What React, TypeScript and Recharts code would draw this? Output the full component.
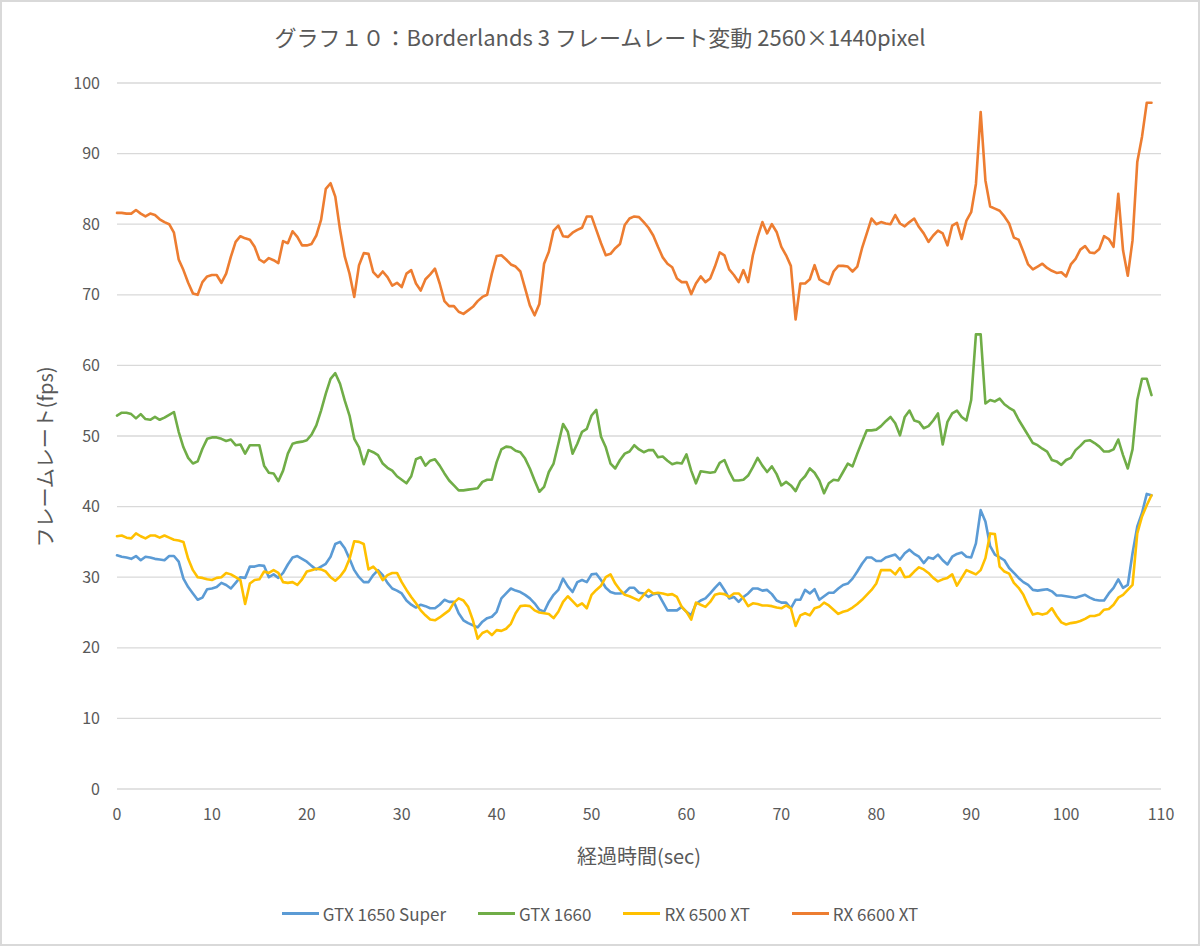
import React from "react";
import { LineChart, Line, XAxis, YAxis, CartesianGrid } from "recharts";

// Time axis: samples every 0.5 s from 0 to 109 s
const SAMPLE_COUNT = 219;
const timeSec: number[] = Array.from({ length: SAMPLE_COUNT }, (_, i) => i / 2);

const xTicks = [0, 10, 20, 30, 40, 50, 60, 70, 80, 90, 100, 110];
const yTicks = [0, 10, 20, 30, 40, 50, 60, 70, 80, 90, 100];

const seriesNames = ["GTX 1650 Super", "GTX 1660", "RX 6500 XT", "RX 6600 XT"];

const gtx1650Super = [
  33.1, 32.9, 32.8, 32.6, 33.0, 32.4, 32.9, 32.8, 32.6, 32.5,
  32.4, 33.0, 33.0, 32.2, 29.8, 28.6, 27.7, 26.8, 27.1, 28.3,
  28.4, 28.6, 29.2, 28.9, 28.4, 29.2, 30.0, 29.9, 31.5, 31.5,
  31.7, 31.6, 30.0, 30.4, 29.9, 30.6, 31.8, 32.8, 33.0, 32.6,
  32.2, 31.6, 31.1, 31.5, 31.9, 32.9, 34.7, 35.0, 34.1, 32.6,
  31.0, 30.0, 29.3, 29.3, 30.3, 31.0, 30.3, 29.2, 28.4, 28.1,
  27.7, 26.7, 26.1, 25.7, 26.1, 25.9, 25.6, 25.6, 26.1, 26.8,
  26.5, 26.5, 24.9, 23.9, 23.5, 23.2, 22.9, 23.7, 24.2, 24.4,
  25.1, 27.0, 27.7, 28.4, 28.1, 27.9, 27.5, 27.0, 26.3, 25.4,
  25.1, 26.5, 27.5, 28.2, 29.8, 28.7, 27.9, 29.3, 29.6, 29.3,
  30.4, 30.5, 29.6, 28.5, 27.9, 27.7, 27.7, 27.8, 28.5, 28.5,
  27.8, 27.7, 27.2, 27.6, 27.7, 26.5, 25.3, 25.3, 25.3, 25.8,
  25.1, 24.6, 26.2, 26.7, 27.0, 27.7, 28.5, 29.2, 28.2, 27.0,
  27.2, 26.5, 27.2, 27.7, 28.4, 28.4, 28.1, 28.2, 27.6, 26.7,
  26.4, 26.4, 25.6, 26.8, 26.8, 28.2, 27.7, 28.3, 26.8, 27.3,
  27.8, 27.8, 28.4, 28.9, 29.1, 29.8, 30.8, 31.9, 32.8, 32.8,
  32.3, 32.3, 32.8, 33.0, 33.2, 32.5, 33.4, 33.9, 33.3, 32.9,
  32.0, 32.8, 32.6, 33.2, 32.4, 31.8, 32.9, 33.3, 33.5, 32.9,
  32.8, 34.8, 39.5, 37.9, 34.4, 33.2, 32.8, 32.4, 31.3, 30.6,
  29.9, 29.3, 28.9, 28.2, 28.1, 28.2, 28.3, 28.0, 27.4, 27.4,
  27.3, 27.2, 27.1, 27.3, 27.5, 27.1, 26.8, 26.7, 26.7, 27.7,
  28.5, 29.7, 28.5, 28.9, 33.4, 37.2, 39.1, 41.8, 41.6,
];

const gtx1660 = [
  52.9, 53.3, 53.3, 53.1, 52.5, 53.1, 52.4, 52.3, 52.7, 52.3,
  52.6, 53.0, 53.4, 50.6, 48.4, 46.9, 46.1, 46.4, 48.2, 49.6,
  49.8, 49.8, 49.6, 49.3, 49.5, 48.7, 48.8, 47.5, 48.7, 48.7,
  48.7, 45.8, 44.8, 44.7, 43.6, 45.1, 47.5, 48.9, 49.1, 49.2,
  49.4, 50.2, 51.5, 53.6, 56.0, 58.1, 58.9, 57.4, 55.0, 52.9,
  49.6, 48.4, 46.0, 48.0, 47.7, 47.3, 46.1, 45.5, 45.1, 44.3,
  43.8, 43.3, 44.3, 46.7, 47.0, 45.8, 46.5, 46.7, 45.8, 44.7,
  43.7, 43.0, 42.3, 42.3, 42.4, 42.5, 42.6, 43.5, 43.8, 43.8,
  46.3, 48.1, 48.5, 48.4, 47.9, 47.7, 46.8, 45.4, 43.7, 42.1,
  42.8, 44.9, 46.1, 48.9, 51.7, 50.6, 47.5, 48.9, 50.6, 51.0,
  52.9, 53.7, 49.9, 48.4, 46.1, 45.4, 46.6, 47.5, 47.8, 48.7,
  48.1, 47.7, 48.0, 48.0, 47.0, 47.1, 46.5, 46.0, 46.2, 46.1,
  47.4, 45.1, 43.3, 45.0, 44.9, 44.8, 44.9, 46.2, 46.6, 45.0,
  43.7, 43.7, 43.8, 44.4, 45.6, 46.9, 45.8, 44.9, 45.7, 44.6,
  43.0, 43.5, 43.0, 42.2, 43.6, 44.3, 45.4, 44.8, 43.7, 41.9,
  43.3, 43.8, 43.7, 44.9, 46.1, 45.7, 47.5, 49.2, 50.8, 50.8,
  50.9, 51.4, 52.1, 52.7, 51.8, 50.1, 52.7, 53.6, 52.2, 52.0,
  51.1, 51.4, 52.2, 53.2, 48.8, 52.0, 53.2, 53.6, 52.7, 52.2,
  55.1, 64.4, 64.4, 54.6, 55.1, 54.9, 55.3, 54.5, 54.0, 53.6,
  52.3, 51.2, 50.1, 49.0, 48.7, 48.2, 47.8, 46.6, 46.4, 45.9,
  46.6, 46.9, 48.0, 48.6, 49.3, 49.4, 49.0, 48.5, 47.8, 47.8,
  48.1, 49.5, 47.3, 45.4, 48.1, 55.1, 58.1, 58.1, 55.8,
];

const rx6500xt = [
  35.8, 35.9, 35.6, 35.5, 36.2, 35.8, 35.5, 35.9, 35.9, 35.6,
  35.9, 35.6, 35.3, 35.2, 35.0, 32.6, 31.0, 30.0, 29.9, 29.7,
  29.6, 29.9, 30.0, 30.6, 30.4, 30.0, 29.6, 26.2, 29.1, 29.6,
  29.7, 30.8, 30.6, 31.0, 30.6, 29.3, 29.2, 29.3, 28.9, 29.7,
  30.8, 31.0, 31.2, 31.1, 30.8, 30.0, 29.5, 30.1, 31.0, 32.6,
  35.1, 35.0, 34.7, 31.1, 31.5, 30.8, 29.6, 30.3, 30.6, 30.6,
  29.3, 28.2, 27.2, 26.3, 25.3, 24.6, 24.0, 23.9, 24.3, 24.8,
  25.3, 26.4, 27.0, 26.7, 25.8, 23.9, 21.3, 22.1, 22.4, 21.8,
  22.5, 22.4, 22.7, 23.4, 24.9, 25.9, 26.0, 25.9, 25.3, 25.0,
  24.9, 24.8, 24.2, 25.1, 26.5, 27.3, 26.6, 25.9, 26.3, 25.6,
  27.5, 28.2, 28.8, 30.0, 30.4, 29.1, 28.2, 27.5, 27.3, 27.0,
  26.7, 27.5, 28.2, 27.7, 27.8, 27.7, 27.5, 27.6, 27.2, 25.8,
  25.1, 24.0, 26.4, 26.1, 25.8, 26.5, 27.5, 27.7, 27.6, 27.2,
  27.7, 27.7, 27.0, 25.9, 26.3, 26.2, 26.0, 26.0, 25.9, 25.7,
  25.6, 26.0, 25.6, 23.1, 24.6, 24.9, 24.6, 25.6, 25.8, 26.4,
  26.0, 25.4, 24.8, 25.1, 25.3, 25.7, 26.2, 26.8, 27.5, 28.2,
  29.1, 31.0, 31.0, 31.0, 30.4, 31.3, 30.0, 30.1, 30.8, 31.4,
  31.1, 30.6, 29.9, 29.4, 29.7, 29.9, 30.4, 28.8, 29.9, 31.0,
  30.7, 30.4, 31.0, 32.7, 36.2, 36.1, 31.5, 30.8, 30.5, 29.2,
  28.5, 27.5, 26.0, 24.7, 24.9, 24.7, 24.9, 25.6, 24.5, 23.6,
  23.3, 23.5, 23.6, 23.8, 24.1, 24.5, 24.5, 24.7, 25.4, 25.5,
  26.1, 27.1, 27.5, 28.2, 28.9, 36.2, 38.6, 40.2, 41.6,
];

const rx6600xt = [
  81.6, 81.6, 81.5, 81.5, 82.0, 81.5, 81.1, 81.5, 81.3, 80.7,
  80.3, 80.0, 78.8, 75.0, 73.5, 71.7, 70.2, 70.0, 71.8, 72.6,
  72.8, 72.8, 71.7, 73.0, 75.4, 77.5, 78.3, 78.0, 77.8, 76.8,
  75.0, 74.6, 75.2, 74.9, 74.5, 77.6, 77.3, 79.0, 78.2, 77.0,
  77.0, 77.2, 78.4, 80.6, 85.0, 85.8, 83.9, 79.2, 75.4, 73.0,
  69.7, 74.2, 75.9, 75.8, 73.2, 72.5, 73.3, 72.5, 71.3, 71.7,
  71.1, 73.0, 73.5, 71.6, 70.6, 72.2, 72.9, 73.7, 71.6, 69.1,
  68.4, 68.4, 67.6, 67.3, 67.8, 68.3, 69.1, 69.7, 70.0, 73.0,
  75.5, 75.6, 75.0, 74.3, 74.0, 73.3, 70.9, 68.5, 67.1, 68.7,
  74.4, 76.1, 79.1, 79.8, 78.3, 78.2, 78.8, 79.2, 79.5, 81.1,
  81.1, 79.2, 77.3, 75.6, 75.8, 76.6, 77.2, 79.9, 80.8, 81.1,
  81.0, 80.3, 79.5, 78.4, 76.8, 75.3, 74.4, 73.9, 72.3, 71.8,
  71.8, 70.1, 71.6, 72.6, 71.8, 72.3, 74.0, 76.0, 75.6, 73.6,
  72.8, 71.8, 73.5, 71.8, 75.6, 78.2, 80.3, 78.7, 80.0, 78.9,
  76.8, 75.6, 74.1, 66.5, 71.6, 71.6, 72.2, 74.2, 72.2, 71.8,
  71.5, 73.3, 74.1, 74.1, 74.0, 73.3, 74.0, 76.6, 78.7, 80.8,
  80.0, 80.3, 80.1, 80.0, 81.3, 80.1, 79.7, 80.3, 80.8, 79.6,
  78.7, 77.5, 78.4, 79.1, 78.7, 77.0, 79.8, 80.2, 77.9, 80.5,
  81.7, 85.7, 95.9, 86.2, 82.5, 82.2, 81.9, 81.1, 80.1, 78.1,
  77.8, 76.1, 74.3, 73.6, 74.0, 74.4, 73.8, 73.4, 73.1, 73.2,
  72.6, 74.3, 75.1, 76.4, 76.9, 76.0, 75.9, 76.5, 78.3, 77.9,
  76.8, 84.3, 76.3, 72.7, 77.7, 88.8, 92.4, 97.2, 97.2,
];

const seriesKeys = ["gtx1650s", "gtx1660", "rx6500xt", "rx6600xt"];
const seriesColors = ["#5B9BD5", "#70AD47", "#FFC000", "#ED7D31"];
const seriesValues = [gtx1650Super, gtx1660, rx6500xt, rx6600xt];

const data = timeSec.map((t, i) => {
  const row: Record<string, number> = { t };
  seriesKeys.forEach((k, s) => {
    row[k] = seriesValues[s][i];
  });
  return row;
});

const FONT = "'Noto Sans CJK JP', 'Noto Sans', sans-serif";
const TEXT = "#595959";
const legendGaps = [0, 32, 32, 42];

export default function App() {
  return (
    <div
      style={{
        position: "absolute",
        left: 0,
        top: 0,
        width: 1200,
        height: 946,
        background: "#fff",
        fontFamily: FONT,
        overflow: "hidden",
      }}
    >
      <div
        style={{
          position: "absolute",
          left: 0,
          top: 0,
          width: 1200,
          height: 946,
          boxSizing: "border-box",
          border: "2px solid #d9d9d9",
          pointerEvents: "none",
          zIndex: 2,
        }}
      />
      <div
        style={{
          position: "absolute",
          left: 0,
          top: 21,
          width: 1200,
          textAlign: "center",
          fontSize: 22,
          color: TEXT,
          lineHeight: "30px",
          whiteSpace: "nowrap",
        }}
      >
        グラフ１０：Borderlands 3 フレームレート変動 2560×1440pixel
      </div>
      <div
        style={{
          position: "absolute",
          left: 45 - 150,
          top: 457 - 15,
          width: 300,
          height: 30,
          lineHeight: "30px",
          textAlign: "center",
          fontSize: 20,
          color: TEXT,
          transform: "rotate(-90deg)",
          whiteSpace: "nowrap",
          zIndex: 1,
        }}
      >
        フレームレート(fps)
      </div>
      <LineChart
        width={1200}
        height={946}
        data={data}
        margin={{ top: 83, right: 39, bottom: 77, left: 0 }}
        style={{ position: "absolute", left: 0, top: 0 }}
      >
        <CartesianGrid vertical={false} stroke="#d9d9d9" strokeWidth={1.3} />
        <XAxis
          dataKey="t"
          type="number"
          domain={[0, 110]}
          ticks={xTicks}
          interval={0}
          height={80}
          axisLine={false}
          tickLine={false}
          tickSize={6}
          tickMargin={14}
          tick={{ fill: TEXT, fontSize: 16, fontFamily: FONT }}
          label={{
            value: "経過時間(sec)",
            position: "insideBottom",
            offset: 5,
            fill: TEXT,
            fontSize: 20,
            fontFamily: FONT,
          }}
        />
        <YAxis
          type="number"
          domain={[0, 100]}
          ticks={yTicks}
          interval={0}
          width={117}
          axisLine={false}
          tickLine={false}
          tickSize={0}
          tickMargin={17}
          tick={{ fill: TEXT, fontSize: 16, fontFamily: FONT }}
        />
        {seriesKeys.map((k, s) => (
          <Line
            key={k}
            type="linear"
            dataKey={k}
            name={seriesNames[s]}
            stroke={seriesColors[s]}
            strokeWidth={2.6}
            strokeLinejoin="round"
            strokeLinecap="round"
            dot={false}
            activeDot={false}
            isAnimationActive={false}
          />
        ))}
      </LineChart>
      <div
        style={{
          position: "absolute",
          left: 0,
          top: 900,
          width: 1200,
          height: 26,
          display: "flex",
          justifyContent: "center",
          alignItems: "center",
          fontSize: 17,
          color: TEXT,
          whiteSpace: "nowrap",
        }}
      >
        {seriesNames.map((n, s) => (
          <div key={n} style={{ display: "flex", alignItems: "center", marginLeft: legendGaps[s] }}>
            <div style={{ width: 37, height: 3, background: seriesColors[s], marginRight: 4 }} />
            <span>{n}</span>
          </div>
        ))}
      </div>
    </div>
  );
}
